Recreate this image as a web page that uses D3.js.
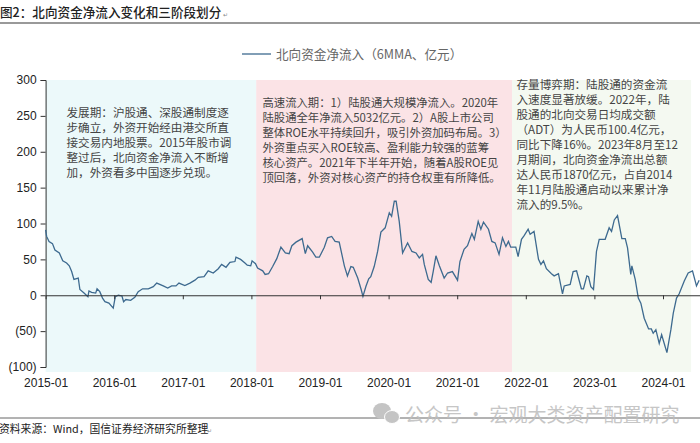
<!DOCTYPE html>
<html lang="zh">
<head>
  <meta charset="utf-8">
  <title>北向资金净流入</title>
  <script src="https://d3js.org/d3.v7.min.js"></script>
  <style>
    html, body { margin: 0; padding: 0; background: #fff; overflow: hidden; }
    svg { display: block; }
    text { font-family: "Noto Sans CJK SC", sans-serif; }
    .axis text { font-family: "Liberation Sans", Arial, sans-serif; font-size: 12px; fill: #222; }
    .axis path, .axis line { stroke: #333; }
  </style>
</head>
<body>
<script>
var yearTicks = [2015,2016,2017,2018,2019,2020,2021,2022,2023,2024];
var valueTicks = [-100,-50,0,50,100,150,200,250,300];

// 横轴用小数年份，从图上读的
var years = [2015,2015.015,2015.05,2015.1,2015.136,2015.2,2015.25,2015.306,2015.345,2015.38,2015.413,2015.476,2015.5,2015.56,2015.617,2015.632,2015.67,2015.73,2015.75,2015.79,2015.83,2015.865,2015.923,2015.986,
  2016.016,2016.06,2016.113,2016.137,2016.17,2016.24,2016.3,2016.35,2016.414,2016.497,2016.57,2016.62,2016.715,2016.78,2016.837,2016.9,2016.944,
  2017.03,2017.104,2017.177,2017.225,2017.31,2017.37,2017.444,2017.517,2017.566,2017.63,2017.687,2017.76,2017.775,2017.843,2017.906,2017.94,2017.99,
  2018.01,2018.06,2018.09,2018.165,2018.2,2018.25,2018.31,2018.37,2018.43,2018.495,2018.55,2018.59,2018.65,2018.74,2018.786,2018.82,2018.893,2018.94,2018.99,
  2019.063,2019.11,2019.17,2019.22,2019.28,2019.355,2019.4,2019.45,2019.485,2019.55,2019.6,2019.626,2019.67,2019.71,2019.74,2019.79,2019.84,2019.888,2019.95,
  2020.01,2020.044,2020.083,2020.11,2020.155,2020.204,2020.277,2020.34,2020.4,2020.447,2020.495,2020.52,2020.578,2020.62,2020.65,2020.69,2020.74,2020.81,2020.86,2020.93,
  2021.005,2021.04,2021.1,2021.15,2021.214,2021.25,2021.306,2021.345,2021.383,2021.456,2021.505,2021.553,2021.61,2021.66,2021.71,2021.747,2021.78,2021.854,2021.888,2021.937,2021.976,
  2022.034,2022.063,2022.12,2022.185,2022.22,2022.258,2022.3,2022.374,2022.413,2022.476,2022.535,2022.56,2022.647,2022.69,2022.74,2022.81,2022.84,2022.89,2022.914,2022.948,2022.987,
  2023.03,2023.07,2023.157,2023.215,2023.25,2023.29,2023.337,2023.4,2023.45,2023.483,2023.53,2023.546,2023.595,2023.64,2023.677,2023.726,2023.79,2023.83,2023.857,2023.896,2023.945,2023.98,
  2024.057,2024.115,2024.15,2024.197,2024.236,2024.31,2024.367,2024.43,2024.488,2024.527];
var inflow = [91,82,75,72,63,59,48,45,41,33,22,24,8,3,-2,6,4,3,9,5,-4,-9,-11,-18,
  -2,0,-1,-9,-6,-7,-3,5,9,9,12,17,13,10,13,13,17,
  13.5,17,21,25,26,34,31,37,43,39,46,47,53,50,45,42,41,
  48,44,38,34,29,30,40,51,67,59,58,69,74,79,58,69,60,53,53,
  67,80,82,75,74,41,27,40,39,24,8,-1.5,12.5,23,26,40,61,88,94,
  115,110,131,131,103,59,73,61,59,52,57,43,22,18,33,55,41,24,31,33,
  21,47,64,69,86,78,103,92,102,92,75,73,57,80,68,75,67,67,54,78,83,
  92,85,89,50,43,48,37,30,27,30,2,13,15,33,34,9,9,27,26,12,8,
  61,78,78,94,89,105,111,79,79,66,29,41,22,-4,-11,-32,-47,-47,-53,-48,-67,-55,
  -80,-48,-25,-4,2,20,31,34,13,21];

var phaseStart = [2015, 2018.07, 2021.8];
var phaseEnd = [2018.07, 2021.8, 2024.41];
var phaseColor = ['#ecf9fa', '#fbe3e6', '#f4f9f1'];

var title = '图2：北向资金净流入变化和三阶段划分';
var legendLabel = '北向资金净流入（6MMA、亿元）';
var sourceLabel = '资料来源：Wind，国信证券经济研究所整理';
var watermark = '公众号 · 宏观大类资产配置研究';
var returnMark = '↵';

var noteDev = ['发展期：沪股通、深股通制度逐','步确立，外资开始经由港交所直','接交易内地股票。2015年股市调','整过后，北向资金净流入不断增','加，外资看多中国逐步兑现。'];
var noteFast = ['高速流入期：1）陆股通大规模净流入。2020年','陆股通全年净流入5032亿元。2）A股上市公司','整体ROE水平持续回升，吸引外资加码布局。3）','外资重点买入ROE较高、盈利能力较强的蓝筹','核心资产。2021年下半年开始，随着A股ROE见','顶回落，外资对核心资产的持仓权重有所降低。'];
var noteStock = ['存量博弈期：陆股通的资金流','入速度显著放缓。2022年，陆','股通的北向交易日均成交额','（ADT）为人民币100.4亿元，','同比下降16%。2023年8月至12','月期间，北向资金净流出总额','达人民币1870亿元，占自2014','年11月陆股通启动以来累计净','流入的9.5%。'];

var width = 700, height = 443;
var svg = d3.select('body').append('svg').attr('width', width).attr('height', height);

var x = d3.scaleLinear().domain([2015, 2025]).range([45.6, 731.6]);
var y = d3.scaleLinear().domain([-100, 300]).range([367, 80]);

// 三个阶段的底色
svg.selectAll('.phase')
  .data(phaseStart)
  .enter().append('rect')
  .attr('class', 'phase')
  .attr('x', function(d) { return x(d); })
  .attr('y', y(300))
  .attr('width', function(d, i) { return x(phaseEnd[i]) - x(d); })
  .attr('height', 372 - y(300))
  .attr('fill', function(d, i) { return phaseColor[i]; });

function drawNote(lines, left, top, size) {
  svg.append('g').selectAll('text')
    .data(lines)
    .enter().append('text')
    .attr('x', left)
    .attr('y', function(d, i) { return top + i * 15; })
    .attr('font-size', size)
    .attr('fill', '#444')
    .text(function(d) { return d; });
}
drawNote(noteDev, 66.5, 117, 11.6);
drawNote(noteFast, 262.5, 107, 11.35);
drawNote(noteStock, 516.5, 89, 11.6);

// 左轴
svg.append('g')
  .attr('class', 'axis')
  .attr('transform', 'translate(' + x(2015) + ',0)')
  .call(d3.axisLeft(y).tickValues(valueTicks).tickSize(5).tickPadding(4)
    .tickFormat(function(d) { return d < 0 ? '(' + (-d) + ')' : d; }));

// 线
var line = d3.line()
  .x(function(d, i) { return x(years[i]); })
  .y(function(d) { return y(d); });

svg.append('path')
  .datum(inflow)
  .attr('fill', 'none')
  .attr('stroke', '#3d6a8f')
  .attr('stroke-width', 1.3)
  .attr('d', line);

// 零线上的刻度
svg.append('g')
  .attr('class', 'axis')
  .attr('transform', 'translate(0,' + y(0) + ')')
  .call(d3.axisBottom(x).tickValues(yearTicks).tickSize(4).tickSizeOuter(0).tickFormat(''));

// 年份标签放在底部
var labels = svg.append('g')
  .attr('class', 'axis')
  .attr('transform', 'translate(0,372)')
  .call(d3.axisBottom(x).tickValues(yearTicks).tickSize(0).tickPadding(6)
    .tickFormat(function(d) { return d + '-01'; }));
labels.select('.domain').remove();

// 图例
svg.append('line').attr('x1', 242).attr('x2', 271).attr('y1', 54).attr('y2', 54)
  .attr('stroke', '#3d6a8f').attr('stroke-width', 1.3);
svg.append('text').attr('x', 276).attr('y', 59).attr('font-size', 12.6).attr('fill', '#666').text(legendLabel);

// 标题和线
svg.append('text').attr('x', 0).attr('y', 17).attr('font-size', 12.6).attr('font-weight', 500).attr('fill', '#222').text(title);
svg.append('text').attr('x', 223).attr('y', 17).attr('font-size', 6).attr('fill', '#888').text(returnMark);
svg.append('line').attr('x1', 0).attr('x2', width).attr('y1', 23).attr('y2', 23).attr('stroke', '#777').attr('stroke-width', 1.6);

// 底部
svg.append('line').attr('x1', 0).attr('x2', width).attr('y1', 418).attr('y2', 418).attr('stroke', '#666').attr('stroke-width', 1);
svg.append('text').attr('x', -1).attr('y', 433).attr('font-size', 10.8).attr('fill', '#222').text(sourceLabel);
svg.append('text').attr('x', 207).attr('y', 433).attr('font-size', 6).attr('fill', '#888').text(returnMark);

// 水印
var mark = svg.append('g').attr('fill', '#c4c4c4');
mark.append('ellipse').attr('cx', 382).attr('cy', 411).attr('rx', 9).attr('ry', 8);
mark.append('ellipse').attr('cx', 392).attr('cy', 417).attr('rx', 7.5).attr('ry', 6.5).attr('stroke', '#fff');
svg.append('text').attr('x', 405).attr('y', 422).attr('font-size', 19).attr('fill', '#bdbdbd').attr('opacity', 0.85).text(watermark);
</script>
</body>
</html>
